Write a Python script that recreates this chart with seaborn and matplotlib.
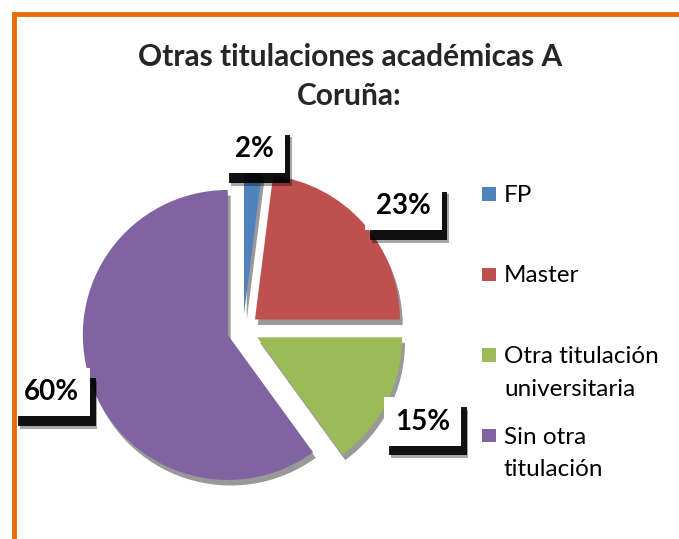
import matplotlib
matplotlib.use("Agg")
import matplotlib.pyplot as plt
import matplotlib.patheffects as pe
from matplotlib.patches import Rectangle
import seaborn as sns

categories = ["FP", "Master", "Otra titulación\nuniversitaria", "Sin otra\ntitulación"]
values = [2, 23, 15, 60]
colors = ["#4F81BD", "#C0504D", "#9BBB59", "#8064A2"]
title = "Otras titulaciones académicas A\nCoruña:"

W, H = 679, 539

sns.set_theme(style="white")
plt.rcParams["font.family"] = ["Lato", "DejaVu Sans"]

fig = plt.figure(figsize=(W / 100, H / 100), dpi=100)
ax = fig.add_axes([0.1016, 0.0649, 0.5125, 0.6456])

wedges, _, pcts = ax.pie(
    values,
    colors=colors,
    startangle=90,
    counterclock=False,
    explode=[0.11] * len(values),
    autopct=lambda p: f"{p:.0f}%",
    pctdistance=1.28,
    wedgeprops=dict(linewidth=0),
)
for w in wedges:
    w.set_path_effects([
        pe.SimplePatchShadow(offset=(2, -4), shadow_rgbFace="black", alpha=0.4),
        pe.Normal(),
    ])

# nudge the two upper labels to where Excel put them
x0, y0 = pcts[0].get_position()
pcts[0].set_position((x0 * 0.9, y0 * 0.9))
x1, y1 = pcts[1].get_position()
pcts[1].set_position((x1 * 1.06, y1 * 0.93))

for t in pcts:
    t.set_fontsize(20)
    t.set_fontweight("bold")
    t.set_color("black")
    t.set_bbox(dict(boxstyle="square,pad=0.4", facecolor="white", edgecolor="none"))
    t.get_bbox_patch().set_path_effects([
        pe.SimplePatchShadow(offset=(5, -9), shadow_rgbFace="black", alpha=0.35),
        pe.SimplePatchShadow(offset=(4, -7), shadow_rgbFace="black", alpha=0.9),
        pe.Normal(),
    ])

ax.set_xlim(-1.2, 1.2)
ax.set_ylim(-1.2, 1.2)
ax.set_aspect("equal")
ax.axis("off")

fig.text(0.515, 0.858, title, ha="center", va="center", fontsize=21.5,
         fontweight="bold", linespacing=1.5)

# legend, Excel style: entries evenly spaced, marker on first line
base0, step, line_gap = 202, 80.5, 32.5
for i, (cat, col) in enumerate(zip(categories, colors)):
    base = base0 + i * step
    fig.add_artist(Rectangle((482 / W, 1 - (base - 1.5) / H), 14 / W, 13.5 / H,
                             transform=fig.transFigure, facecolor=col,
                             edgecolor="none"))
    for j, line in enumerate(cat.split("\n")):
        fig.text(504 / W, 1 - (base + j * line_gap) / H, line,
                 ha="left", va="baseline", fontsize=17.5, color="black")

frame = Rectangle((14 / W, -0.2), 1.2, 1.2 - 14 / H,
                  transform=fig.transFigure, fill=False,
                  edgecolor="#E46C0A", linewidth=3.5)
fig.add_artist(frame)

fig.savefig("out.png", dpi=100)
